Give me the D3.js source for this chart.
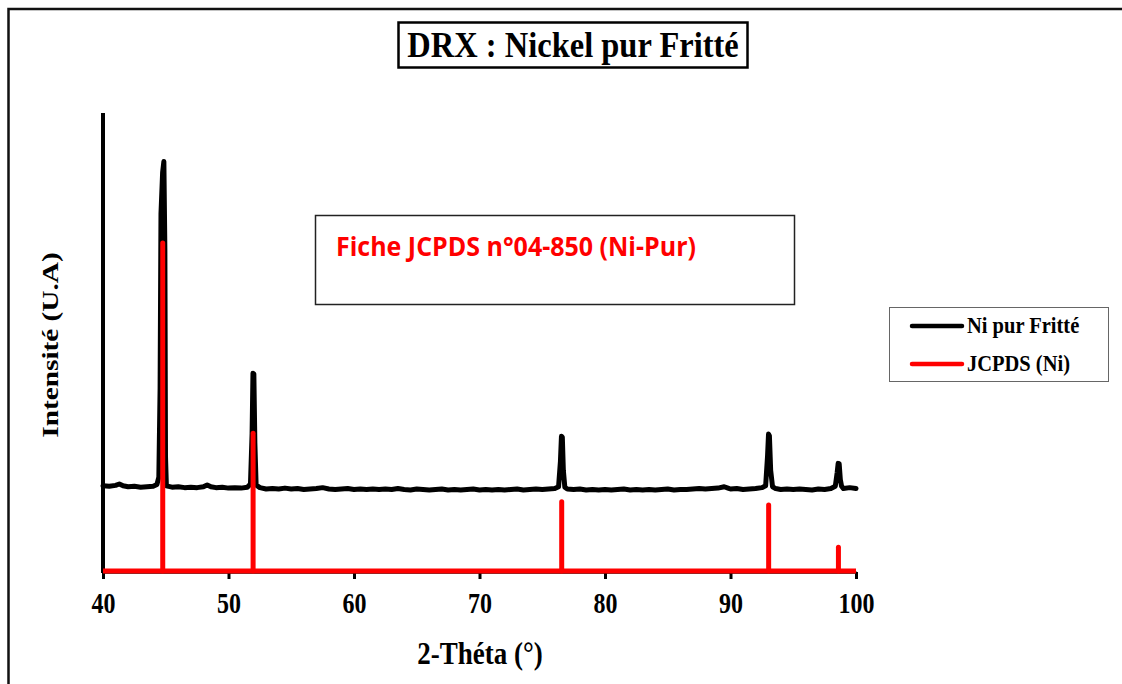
<!DOCTYPE html>
<html>
<head>
<meta charset="utf-8">
<script src="https://cdn.jsdelivr.net/npm/d3@7"></script>
<style>
  body { margin: 0; background: #fff; }
  text { font-family: "Liberation Serif", "Times New Roman", serif; font-weight: bold; }
</style>
</head>
<body>
<div id="chart"></div>
<script>
// Observed pattern (2-theta, intensity in arbitrary units)
const niObs = [
  [40.0, 18.6], [40.5, 18.5], [41.0, 18.7], [41.3, 19.0], [41.6, 18.6], [42.0, 18.4],
  [42.5, 18.5], [43.0, 18.3], [43.5, 18.4], [44.0, 18.5], [44.3, 18.9], [44.45, 20.5],
  [44.55, 40], [44.62, 78], [44.75, 87], [44.85, 89.4], [44.93, 70], [44.98, 25],
  [45.05, 18.6], [45.5, 18.3], [46.0, 18.4], [46.5, 18.2], [47.0, 18.3], [47.5, 18.2],
  [48.0, 18.4], [48.3, 18.8], [48.6, 18.4], [49.0, 18.2], [49.5, 18.3], [50.0, 18.1],
  [50.5, 18.2], [51.0, 18.1], [51.5, 18.3], [51.75, 19.0], [51.88, 30], [51.95, 43.2],
  [52.02, 43.0], [52.1, 28], [52.2, 18.8], [52.5, 18.2], [53.0, 17.9], [53.5, 18.0],
  [54.0, 17.9], [54.5, 18.1], [55.0, 17.9], [55.5, 18.0], [56.0, 17.8], [56.5, 17.9],
  [57.0, 18.0], [57.5, 18.2], [58.0, 17.9], [58.5, 17.8], [59.0, 17.9], [59.5, 18.0],
  [60.0, 17.8], [60.5, 17.9], [61.0, 17.8], [61.5, 17.9], [62.0, 17.8], [62.5, 17.9],
  [63.0, 17.8], [63.5, 18.0], [64.0, 17.8], [64.5, 17.7], [65.0, 17.9], [65.5, 17.8],
  [66.0, 17.7], [66.5, 17.8], [67.0, 17.9], [67.5, 17.7], [68.0, 17.8], [68.5, 17.7],
  [69.0, 17.8], [69.5, 17.9], [70.0, 17.7], [70.5, 17.8], [71.0, 17.7], [71.5, 17.8],
  [72.0, 17.7], [72.5, 17.8], [73.0, 17.9], [73.5, 17.7], [74.0, 17.8], [74.5, 17.9],
  [75.0, 17.8], [75.5, 17.9], [76.0, 18.0], [76.3, 18.4], [76.45, 24], [76.53, 29.4],
  [76.6, 29.2], [76.68, 22], [76.8, 18.3], [77.0, 17.9], [77.5, 17.8], [78.0, 17.9],
  [78.5, 17.7], [79.0, 17.8], [79.5, 17.7], [80.0, 17.8], [80.5, 17.7], [81.0, 17.8],
  [81.5, 17.9], [82.0, 17.7], [82.5, 17.8], [83.0, 17.7], [83.5, 17.8], [84.0, 17.7],
  [84.5, 17.8], [85.0, 17.9], [85.5, 17.7], [86.0, 17.8], [86.5, 17.8], [87.0, 17.9],
  [87.5, 18.0], [88.0, 17.9], [88.5, 18.0], [89.0, 18.1], [89.5, 18.4], [89.8, 18.1],
  [90.0, 17.9], [90.5, 18.0], [91.0, 17.8], [91.5, 17.9], [92.0, 18.0], [92.5, 18.2],
  [92.8, 18.6], [92.95, 25], [93.03, 29.9], [93.1, 29.5], [93.2, 22], [93.35, 18.4],
  [93.6, 18.0], [94.0, 17.8], [94.5, 17.9], [95.0, 17.8], [95.5, 17.9], [96.0, 17.8],
  [96.5, 17.7], [97.0, 17.9], [97.5, 17.8], [98.0, 18.0], [98.35, 18.5], [98.5, 21.5],
  [98.58, 23.5], [98.66, 23.4], [98.75, 20], [98.85, 18.5], [99.0, 18.0], [99.5, 18.2],
  [100.0, 18.0]
];

// JCPDS reference lines
const jcpdsPos = [44.76, 51.96, 76.55, 93.04, 98.6];
const jcpdsInt = [71.6, 30.1, 15.1, 14.4, 5.2];

const xTicks = [40, 50, 60, 70, 80, 90, 100];

const width = 1122, height = 684;
const margin = { top: 113, right: 266, bottom: 113, left: 103 };

const svg = d3.select("#chart").append("svg")
  .attr("width", width)
  .attr("height", height);

// text stretched a bit vertically, like the source picture
function label(px, py, str, size, sy, anchor) {
  return svg.append("text")
    .attr("transform", `translate(${px},${py}) scale(1,${sy})`)
    .attr("text-anchor", anchor || "start")
    .style("font-size", size + "px")
    .text(str);
}

// outer frame
svg.append("rect")
  .attr("x", 8.5).attr("y", 9)
  .attr("width", 1130).attr("height", 700)
  .attr("fill", "none")
  .attr("stroke", "#111")
  .attr("stroke-width", 2.5);

const x = d3.scaleLinear().domain([40, 100]).range([margin.left, width - margin.right]);
const y = d3.scaleLinear().domain([0, 100]).range([571, margin.top]);

// x axis
const xAxis = svg.append("g")
  .attr("transform", `translate(0,572)`)
  .call(d3.axisBottom(x).tickValues(xTicks).tickSize(7).tickSizeOuter(0).tickFormat(d3.format("d")));
xAxis.select(".domain").attr("stroke", "#000").attr("stroke-width", 2.5);
xAxis.selectAll(".tick line").attr("stroke", "#000").attr("stroke-width", 3);
xAxis.selectAll(".tick text")
  .attr("y", 0).attr("dy", 0)
  .attr("transform", "translate(0,41) scale(1,1.22)")
  .attr("fill", "#000")
  .style("font-size", "24px")
  .style("font-family", "'Liberation Serif', serif")
  .style("font-weight", "bold");

// y axis (line only)
svg.append("g")
  .attr("transform", `translate(${margin.left},0)`)
  .call(d3.axisLeft(y).tickValues([]).tickSizeOuter(0))
  .select(".domain")
  .attr("stroke", "#000").attr("stroke-width", 4)
  .attr("d", `M0,${margin.top}V573`);

// observed pattern
const line = d3.line().x(d => x(d[0])).y(d => y(d[1]));
svg.append("path")
  .datum(niObs)
  .attr("d", line)
  .attr("fill", "none")
  .attr("stroke", "#000")
  .attr("stroke-width", 5)
  .attr("stroke-linejoin", "round")
  .attr("stroke-linecap", "round");

// JCPDS baseline + sticks
svg.append("line")
  .attr("x1", x(40)).attr("x2", x(100))
  .attr("y1", y(0)).attr("y2", y(0))
  .attr("stroke", "#ff0000").attr("stroke-width", 5);

svg.selectAll(".stick")
  .data(jcpdsPos)
  .enter().append("line")
  .attr("class", "stick")
  .attr("x1", d => x(d)).attr("x2", d => x(d))
  .attr("y1", y(0))
  .attr("y2", (d, i) => y(jcpdsInt[i]))
  .attr("stroke", "#ff0000")
  .attr("stroke-width", 5)
  .attr("stroke-linecap", "round");

// title box
svg.append("rect")
  .attr("x", 398.5).attr("y", 22.5).attr("width", 349).attr("height", 45)
  .attr("fill", "#fff").attr("stroke", "#000").attr("stroke-width", 2.5);
label(573, 57, "DRX : Nickel pur Fritté", 32.5, 1.12, "middle");

// JCPDS note box
svg.append("rect")
  .attr("x", 315.5).attr("y", 215.5).attr("width", 479).attr("height", 89)
  .attr("fill", "#fff").attr("stroke", "#222").attr("stroke-width", 1.5);
svg.append("text")
  .attr("transform", "translate(336,256) scale(1,1.1)")
  .attr("fill", "#ff0000")
  .style("font-family", "'Open Sans', 'Noto Sans', sans-serif")
  .style("font-size", "25px")
  .style("font-weight", "bold")
  .text("Fiche JCPDS n°04-850 (Ni-Pur)");

// legend
const legendItems = [
  { label: "Ni pur Fritté", color: "#000" },
  { label: "JCPDS (Ni)", color: "#ff0000" }
];
svg.append("rect")
  .attr("x", 889.5).attr("y", 307.5).attr("width", 219).attr("height", 74)
  .attr("fill", "#fff").attr("stroke", "#666").attr("stroke-width", 1);
const leg = svg.selectAll(".leg")
  .data(legendItems)
  .enter().append("g")
  .attr("class", "leg")
  .attr("transform", (d, i) => `translate(0,${326 + i * 38})`);
leg.append("line")
  .attr("x1", 912).attr("x2", 962)
  .attr("stroke", d => d.color)
  .attr("stroke-width", 4.5)
  .attr("stroke-linecap", "round");
leg.append("text")
  .attr("transform", "translate(967,7) scale(1,1.15)")
  .style("font-size", "20.5px")
  .text(d => d.label);

// axis titles
label(480, 664, "2-Théta (°)", 27, 1.15, "middle");
svg.append("text")
  .attr("transform", "translate(58,345) rotate(-90) scale(1.22,1)")
  .attr("text-anchor", "middle")
  .style("font-size", "24px")
  .text("Intensité (U.A)");
</script>
</body>
</html>
